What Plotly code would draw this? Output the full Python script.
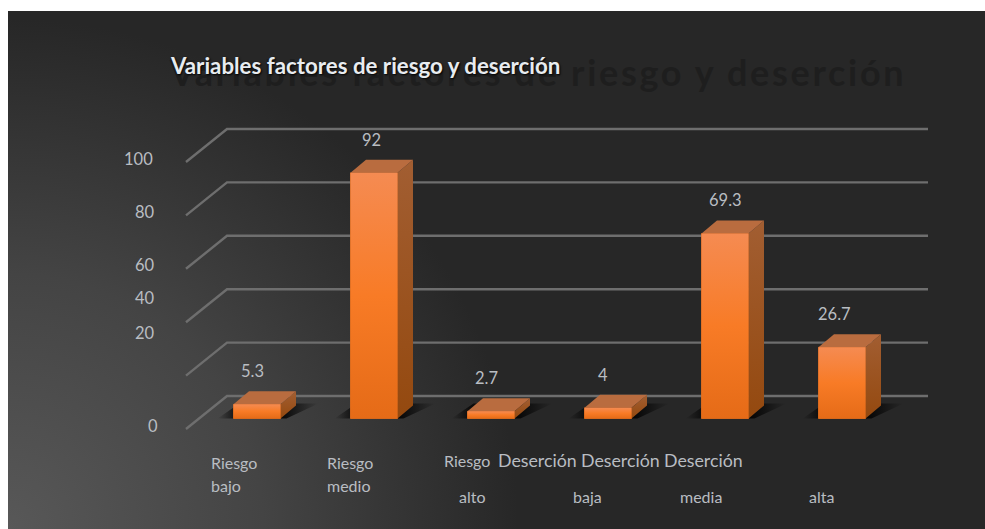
import plotly.graph_objects as go

# ---- data ----
categories = ["Riesgo bajo", "Riesgo medio", "Riesgo alto",
              "Deserción baja", "Deserción media", "Deserción alta"]
values = [5.3, 92, 2.7, 4, 69.3, 26.7]
tick_labels = ["0", "20", "40", "60", "80", "100"]
tick_values = [0, 20, 40, 60, 80, 100]
title_text = "Variables factores de riesgo y deserción"

# ---- page geometry (pixels) ----
W, H = 985, 529
L, T = 8, 11
X0_PX, STEP_PX = 257, 117.0      # centre of first bar, category pitch
Y0_PX, UNIT_PX = 418.5, 2.67     # baseline, pixels per value unit


def px_x(p):
    return (p - X0_PX) / STEP_PX


def px_y(p):
    return (Y0_PX - p) / UNIT_PX


dx = 15.5 / STEP_PX              # bar depth on screen
dy = 13 / UNIT_PX
half = 23.5 / STEP_PX            # half width of a bar
xr = [px_x(L), px_x(W)]
yr = [px_y(H), px_y(T)]
xpos = list(range(len(categories)))

fig = go.Figure()

# background glow, centred on the bottom-left corner of the panel
R = 510
fig.add_trace(go.Scatter(
    x=[px_x(L - R), px_x(L + R), px_x(L + R), px_x(L - R), px_x(L - R)],
    y=[px_y(H - R), px_y(H - R), px_y(H + R), px_y(H + R), px_y(H - R)],
    mode="none", fill="toself", hoverinfo="skip", showlegend=False,
    fillgradient=dict(type="radial",
                      colorscale=[[0, "#585858"], [0.5, "#444444"], [1, "#272727"]])))

# walls / gridlines
GRID = "#6E6E6E"
for v in tick_values:
    fig.add_trace(go.Scatter(
        x=[px_x(186), px_x(227), px_x(928)],
        y=[v - 10.5 / UNIT_PX, v + 22.5 / UNIT_PX, v + 22.5 / UNIT_PX],
        mode="lines", line=dict(color=GRID, width=2.4), hoverinfo="skip",
        showlegend=False))

# floor shadows
for x in xpos:
    fig.add_trace(go.Scatter(
        x=[x - half - 16 / STEP_PX, x + half + 6 / STEP_PX,
           x + half + 38 / STEP_PX, x - half + 6 / STEP_PX,
           x - half - 16 / STEP_PX],
        y=[0, 0, 15 / UNIT_PX, 15 / UNIT_PX, 0],
        mode="none", fill="toself", hoverinfo="skip", showlegend=False,
        fillgradient=dict(type="horizontal", colorscale=[
            [0, "rgba(0,0,0,0)"], [0.18, "rgba(0,0,0,0.7)"],
            [0.65, "rgba(0,0,0,0.85)"], [1, "rgba(0,0,0,0)"]])))

# ghost title behind the real one
fig.add_trace(go.Scatter(
    x=[px_x(538)], y=[px_y(77)], mode="text", text=[title_text],
    textposition="middle center", hoverinfo="skip", showlegend=False,
    textfont=dict(family="Lato", size=36, color="#1e1e1e", weight="bold")))

# bars on a second pair of axes so they sit above the grid
fig.add_trace(go.Bar(
    x=xpos, y=values, width=2 * half, xaxis="x2", yaxis="y2",
    marker=dict(color="#F47B28", line=dict(color="#D96A1C", width=0.8)),
    customdata=categories, hovertemplate="%{customdata}: %{y}<extra></extra>",
    showlegend=False))

for x, v in zip(xpos, values):
    r = x + half
    l = x - half
    # right side
    fig.add_trace(go.Scatter(
        x=[r, r + dx, r + dx, r, r], y=[0, dy, v + dy, v, 0],
        mode="none", fill="toself", hoverinfo="skip", showlegend=False,
        xaxis="x2", yaxis="y2",
        fillgradient=dict(type="vertical", colorscale=[[0, "#94490F"], [1, "#A25E32"]])))
    # top
    fig.add_trace(go.Scatter(
        x=[l, r, r + dx, l + dx, l], y=[v, v, v + dy, v + dy, v],
        mode="none", fill="toself", fillcolor="#B96C3F", hoverinfo="skip",
        showlegend=False, xaxis="x2", yaxis="y2"))
    # front face shading
    fig.add_trace(go.Scatter(
        x=[l, r, r, l, l], y=[0, 0, v, v, 0],
        mode="none", fill="toself", hoverinfo="skip", showlegend=False,
        xaxis="x2", yaxis="y2",
        fillgradient=dict(type="vertical", colorscale=[
            [0, "#E56B17"], [0.5, "#F87B26"], [1, "#F58B52"]])))

annotations = []
TXT = "#B9BDC2"


def label(px, py, text, size=16, anchor="left", color=TXT):
    annotations.append(dict(
        x=px_x(px), y=px_y(py), xref="x", yref="y", text=text, showarrow=False,
        xanchor=anchor, yanchor="middle",
        font=dict(family="Lato", size=size, color=color)))


# value labels
value_shift = [-5, -3, -5, -5, 0, -8]
for x, v, s in zip(xpos, values, value_shift):
    annotations.append(dict(
        x=x, y=v, xref="x", yref="y", text=str(v), showarrow=False,
        xanchor="center", yanchor="middle", xshift=s, yshift=33,
        font=dict(family="Lato", size=16.5, color=TXT)))

# value axis labels, as irregularly placed in the source
tick_px = [(153, 426), (145, 333), (145, 298), (145, 265), (145, 212), (138, 159)]
for t, (px, py) in zip(tick_labels, tick_px):
    label(px, py, t, size=16.5, anchor="center")

# category labels, broken over two lines as in the source
cat_px = [((209, 462, 16), (209, 485, 16)),
          ((325, 462, 16), (325, 485, 16)),
          ((442, 460, 16), (457, 496, 16)),
          ((496, 460, 17.8), (571, 496, 16)),
          ((579, 460, 17.8), (678, 496, 16)),
          ((662, 460, 17.8), (807, 496, 16))]
for cat, (a, b) in zip(categories, cat_px):
    w1, w2 = cat.split(" ")
    label(a[0], a[1], w1, size=a[2])
    label(b[0], b[1], w2, size=b[2])

hidden = dict(visible=False, showgrid=False, zeroline=False, fixedrange=True)
fig.update_layout(
    width=W, height=H, margin=dict(l=L, r=0, t=T, b=0, pad=0),
    paper_bgcolor="white", plot_bgcolor="#272727", showlegend=False,
    title=dict(text=title_text, x=(171 - L) / (W - L), xanchor="left", xref="paper",
               y=1 - (66 - T) / (H - T), yanchor="middle", yref="paper",
               font=dict(family="Lato", size=22.3, color="#E8ECF0", weight="bold",
                         shadow="1px 1px 2px #000")),
    xaxis=dict(range=xr, **hidden),
    yaxis=dict(range=yr, **hidden),
    xaxis2=dict(range=xr, overlaying="x", **hidden),
    yaxis2=dict(range=yr, overlaying="y", **hidden),
    annotations=annotations,
)

# the faint backdrop title of the source is widely letter-spaced
spacing = ("document.body.style.margin='0';"
           "document.querySelectorAll('.textpoint text').forEach("
           "t=>{t.style.letterSpacing='2.7px';});")
fig.write_html("out.html", config=dict(displayModeBar=False), post_script=spacing)
